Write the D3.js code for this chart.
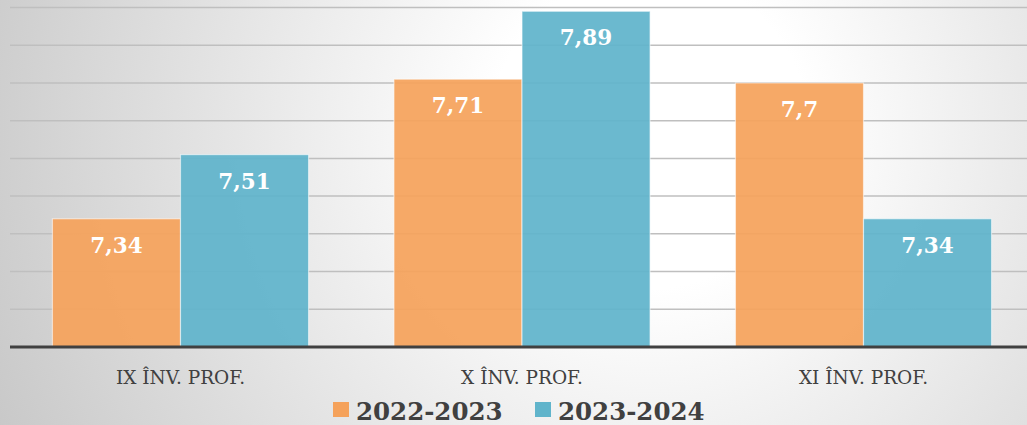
<!DOCTYPE html>
<html>
<head>
<meta charset="utf-8">
<script src="https://cdnjs.cloudflare.com/ajax/libs/d3/7.8.5/d3.min.js"></script>
<style>
  html, body { margin: 0; padding: 0; background: #fff; }
  svg { display: block; }
</style>
</head>
<body>
<div class="Chart"></div>
<script>
// chart data
var categories = ["IX ÎNV. PROF.", "X ÎNV. PROF.", "XI ÎNV. PROF."];
var seriesNames = ["2022-2023", "2023-2024"];
var values2022 = [7.34, 7.71, 7.70];
var values2023 = [7.51, 7.89, 7.34];
var valueLabels2022 = ["7,34", "7,71", "7,7"];
var valueLabels2023 = ["7,51", "7,89", "7,34"];
var gridTicks = [7.0, 7.1, 7.2, 7.3, 7.4, 7.5, 7.6, 7.7, 7.8, 7.9];

var width = 1027;
var height = 425;
var colors = ["#f5a25b", "#60b4cb"];
var serif = "'DejaVu Serif', 'Liberation Serif', serif";

var svg = d3.select(".Chart")
            .append("svg")
            .attr("width", width)
            .attr("height", height);

// radial background
var defs = svg.append("defs");
var grad = defs.append("radialGradient")
               .attr("id", "bg")
               .attr("gradientUnits", "userSpaceOnUse")
               .attr("cx", 650).attr("cy", 130).attr("r", 720);
grad.append("stop").attr("offset", "0%").attr("stop-color", "#ffffff");
grad.append("stop").attr("offset", "22%").attr("stop-color", "#ffffff");
grad.append("stop").attr("offset", "100%").attr("stop-color", "#c8c8c8");

svg.append("rect")
   .attr("width", width)
   .attr("height", height)
   .attr("fill", "url(#bg)");

// scales
var x0 = d3.scaleBand()
           .domain(categories)
           .range([9.75, 1034.25])
           .paddingInner(0.25)
           .paddingOuter(0.125);

var x1 = d3.scaleBand()
           .domain(seriesNames)
           .range([0, x0.bandwidth()]);

var y = d3.scaleLinear()
          .domain([7.0, 7.9])
          .range([347, 7.5]);

// gridlines
svg.append("g")
   .attr("class", "grid")
   .selectAll("line")
   .data(gridTicks.slice(1))
   .enter().append("line")
   .attr("x1", 10)
   .attr("x2", width)
   .attr("y1", function(d){ return y(d); })
   .attr("y2", function(d){ return y(d); })
   .attr("stroke", "#bfbfbf")
   .attr("stroke-width", 1.5);

// bars
var rows = categories.map(function(c, i){
  return [
    {cat: c, series: seriesNames[0], value: values2022[i], label: valueLabels2022[i], color: colors[0]},
    {cat: c, series: seriesNames[1], value: values2023[i], label: valueLabels2023[i], color: colors[1]}
  ];
});

var groups = svg.selectAll("g.group")
                .data(rows)
                .enter().append("g")
                .attr("class", "group")
                .attr("transform", function(d){ return "translate(" + x0(d[0].cat) + ",0)"; });

groups.selectAll("rect")
      .data(function(d){ return d; })
      .enter().append("rect")
      .attr("x", function(d){ return x1(d.series); })
      .attr("y", function(d){ return y(d.value); })
      .attr("width", x1.bandwidth())
      .attr("height", function(d){ return y(7.0) - y(d.value); })
      .attr("fill", function(d){ return d.color; })
      .attr("fill-opacity", 0.93)
      .attr("stroke", "rgba(255,255,255,0.55)")
      .attr("stroke-width", 1.2);

groups.selectAll("text")
      .data(function(d){ return d; })
      .enter().append("text")
      .attr("x", function(d){ return x1(d.series) + x1.bandwidth() / 2; })
      .attr("y", function(d){ return y(d.value) + 34; })
      .attr("text-anchor", "middle")
      .attr("font-family", serif)
      .attr("font-weight", "bold")
      .attr("font-size", 21.5)
      .attr("fill", "#ffffff")
      .text(function(d){ return d.label; });

// base axis line
svg.append("line")
   .attr("x1", 10)
   .attr("x2", width)
   .attr("y1", y(7.0))
   .attr("y2", y(7.0))
   .attr("stroke", "#404040")
   .attr("stroke-width", 3);

// category labels
svg.append("g")
   .selectAll("text")
   .data(categories)
   .enter().append("text")
   .attr("x", function(d){ return x0(d) + x0.bandwidth() / 2; })
   .attr("y", 384)
   .attr("text-anchor", "middle")
   .attr("font-family", serif)
   .attr("font-size", 18.5)
   .attr("fill", "#404040")
   .text(function(d){ return d; });

// legend
var legendX = [333, 535];
var legend = svg.selectAll("g.legend")
                .data(seriesNames)
                .enter().append("g")
                .attr("class", "legend")
                .attr("transform", function(d, i){ return "translate(" + legendX[i] + ",0)"; });

legend.append("rect")
      .attr("x", 0)
      .attr("y", 402)
      .attr("width", 16)
      .attr("height", 15)
      .attr("fill", function(d, i){ return colors[i]; });

legend.append("text")
      .attr("x", 23)
      .attr("y", 420)
      .attr("font-family", serif)
      .attr("font-weight", "bold")
      .attr("font-size", 24.5)
      .attr("fill", "#404040")
      .text(function(d){ return d; });
</script>
</body>
</html>
